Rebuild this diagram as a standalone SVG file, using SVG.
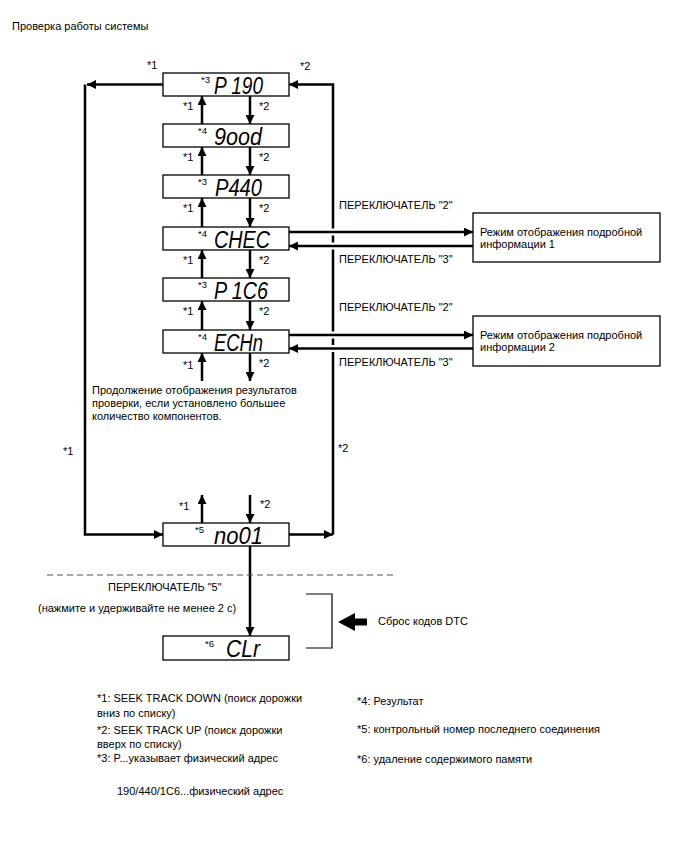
<svg xmlns="http://www.w3.org/2000/svg" width="688" height="852" viewBox="0 0 688 852">
<defs>
<marker id="ah" markerUnits="userSpaceOnUse" markerWidth="10" markerHeight="9" refX="9" refY="4.5" orient="auto">
<path d="M0,0 L9,4.5 L0,9 z" fill="#000"/>
</marker>
</defs>
<style>
.ln{stroke:#000;stroke-width:2.5;fill:none}
.gap{stroke:#fff;stroke-width:7;fill:none}
.box{fill:#fff;stroke:#000;stroke-width:1.3}
.t{font-family:"Liberation Sans",Arial,sans-serif;font-size:11px;fill:#000}
.sup{font-family:"Liberation Sans",Arial,sans-serif;font-size:9.5px;fill:#000}
.seg{font-family:"Liberation Sans",Arial,sans-serif;font-style:italic;font-size:23px;fill:#000}
</style>
<rect width="688" height="852" fill="#fff"/>
<text class="t" x="12" y="30">Проверка работы системы</text>

<g id="connectors">
<path class="ln" d="M163,84.5 H87" marker-end="url(#ah)"/>
<path class="ln" d="M85,84.5 V534.5 H163" marker-end="url(#ah)"/>
<path class="ln" d="M289,534.5 H333" marker-end="url(#ah)"/>
<path class="ln" d="M333,534.5 V84.5 H289" marker-end="url(#ah)"/>
<path class="ln" d="M202,124 V96" marker-end="url(#ah)"/>
<path class="ln" d="M250,96 V124" marker-end="url(#ah)"/>
<path class="ln" d="M202,175 V147" marker-end="url(#ah)"/>
<path class="ln" d="M250,147 V175" marker-end="url(#ah)"/>
<path class="ln" d="M202,227 V198" marker-end="url(#ah)"/>
<path class="ln" d="M250,198 V227" marker-end="url(#ah)"/>
<path class="ln" d="M202,278 V250" marker-end="url(#ah)"/>
<path class="ln" d="M250,250 V278" marker-end="url(#ah)"/>
<path class="ln" d="M202,330 V301" marker-end="url(#ah)"/>
<path class="ln" d="M250,301 V330" marker-end="url(#ah)"/>
<path class="ln" d="M202,381 V353" marker-end="url(#ah)"/>
<path class="ln" d="M250,353 V381" marker-end="url(#ah)"/>
<path class="ln" d="M202,523 V495" marker-end="url(#ah)"/>
<path class="ln" d="M250,495 V523" marker-end="url(#ah)"/>
<path class="ln" d="M250,546 V636" marker-end="url(#ah)"/>
<path class="gap" d="M328,232 H338 M328,246 H338 M328,335 H338 M328,348.5 H338"/>
<path class="ln" d="M289,232 H473" marker-end="url(#ah)"/>
<path class="ln" d="M473,246 H289" marker-end="url(#ah)"/>
<path class="ln" d="M289,335 H473" marker-end="url(#ah)"/>
<path class="ln" d="M473,348.5 H289" marker-end="url(#ah)"/>
<path d="M47,575 H395" stroke="#555" stroke-width="1" stroke-dasharray="6,4" fill="none"/>
<path d="M306,594 H332 V648 H306" stroke="#000" stroke-width="1.2" fill="none"/>
<polygon points="338,622 355,613 355,618.5 367,618.5 367,625.5 355,625.5 355,631" fill="#000"/>
</g>

<g id="labels">
<text class="t" x="147" y="69">*1</text>
<text class="t" x="300" y="70">*2</text>
<text class="t" x="183" y="110">*1</text><text class="t" x="259" y="110">*2</text>
<text class="t" x="183" y="161">*1</text><text class="t" x="259" y="161">*2</text>
<text class="t" x="183" y="212">*1</text><text class="t" x="259" y="212">*2</text>
<text class="t" x="183" y="264">*1</text><text class="t" x="259" y="264">*2</text>
<text class="t" x="183" y="315">*1</text><text class="t" x="259" y="315">*2</text>
<text class="t" x="183" y="369">*1</text><text class="t" x="259" y="367">*2</text>
<text class="t" x="179" y="510">*1</text><text class="t" x="260" y="508">*2</text>
<text class="t" x="63" y="455">*1</text>
<text class="t" x="338" y="452">*2</text>
<text class="t" x="339" y="209">ПЕРЕКЛЮЧАТЕЛЬ "2"</text>
<text class="t" x="339" y="263">ПЕРЕКЛЮЧАТЕЛЬ "3"</text>
<text class="t" x="339" y="310.5">ПЕРЕКЛЮЧАТЕЛЬ "2"</text>
<text class="t" x="339" y="365.5">ПЕРЕКЛЮЧАТЕЛЬ "3"</text>
<text class="t" x="92" y="394">Продолжение отображения результатов</text>
<text class="t" x="92" y="407">проверки, если установлено большее</text>
<text class="t" x="92" y="420">количество компонентов.</text>
<text class="t" x="108" y="590.5">ПЕРЕКЛЮЧАТЕЛЬ "5"</text>
<text class="t" x="38" y="612">(нажмите и удерживайте не менее 2 с)</text>
<text class="t" x="378" y="625">Сброс кодов DTC</text>
</g>

<g id="n-p190"><rect class="box" x="163" y="73" width="126" height="23"/><text class="sup" x="201" y="83">*3</text><text class="seg" x="214" y="93.5" textLength="49" lengthAdjust="spacingAndGlyphs">P 190</text></g>
<g id="n-good"><rect class="box" x="163" y="124" width="126" height="23"/><text class="sup" x="198" y="134">*4</text><text class="seg" x="214" y="144.5" textLength="48" lengthAdjust="spacingAndGlyphs">9ood</text></g>
<g id="n-p440"><rect class="box" x="163" y="175" width="126" height="23"/><text class="sup" x="198" y="185">*3</text><text class="seg" x="215" y="195.5" textLength="47" lengthAdjust="spacingAndGlyphs">P440</text></g>
<g id="n-chec"><rect class="box" x="163" y="227" width="126" height="23"/><text class="sup" x="198" y="237">*4</text><text class="seg" x="214" y="247.5" textLength="56" lengthAdjust="spacingAndGlyphs">CHEC</text></g>
<g id="n-p1c6"><rect class="box" x="163" y="278" width="126" height="23"/><text class="sup" x="198" y="288">*3</text><text class="seg" x="214" y="298.5" textLength="54" lengthAdjust="spacingAndGlyphs">P 1C6</text></g>
<g id="n-echn"><rect class="box" x="163" y="330" width="126" height="23"/><text class="sup" x="198" y="340">*4</text><text class="seg" x="214" y="350.5" textLength="49" lengthAdjust="spacingAndGlyphs">ECHn</text></g>
<g id="n-no01"><rect class="box" x="163" y="523" width="126" height="23"/><text class="sup" x="195" y="533">*5</text><text class="seg" x="214" y="543.5" textLength="49" lengthAdjust="spacingAndGlyphs">no01</text></g>
<g id="n-clr"><rect class="box" x="163" y="636" width="126" height="24"/><text class="sup" x="205" y="647">*6</text><text class="seg" x="226" y="657" textLength="34" lengthAdjust="spacingAndGlyphs">CLr</text></g>
<g id="n-detail1"><rect class="box" x="473" y="213" width="187" height="49"/><text class="t" x="480" y="236">Режим отображения подробной</text><text class="t" x="480" y="248">информации 1</text></g>
<g id="n-detail2"><rect class="box" x="473" y="316" width="187" height="50"/><text class="t" x="480" y="339">Режим отображения подробной</text><text class="t" x="480" y="351">информации 2</text></g>

<g id="legend">
<text class="t" x="97" y="702">*1: SEEK TRACK DOWN (поиск дорожки</text>
<text class="t" x="97" y="717">вниз по списку)</text>
<text class="t" x="97" y="734">*2: SEEK TRACK UP (поиск дорожки</text>
<text class="t" x="97" y="748">вверх по списку)</text>
<text class="t" x="97" y="762">*3: P...указывает физический адрес</text>
<text class="t" x="117" y="795">190/440/1C6...физический адрес</text>
<text class="t" x="357" y="705">*4: Результат</text>
<text class="t" x="357" y="733">*5: контрольный номер последнего соединения</text>
<text class="t" x="357" y="763">*6: удаление содержимого памяти</text>
</g>
</svg>
